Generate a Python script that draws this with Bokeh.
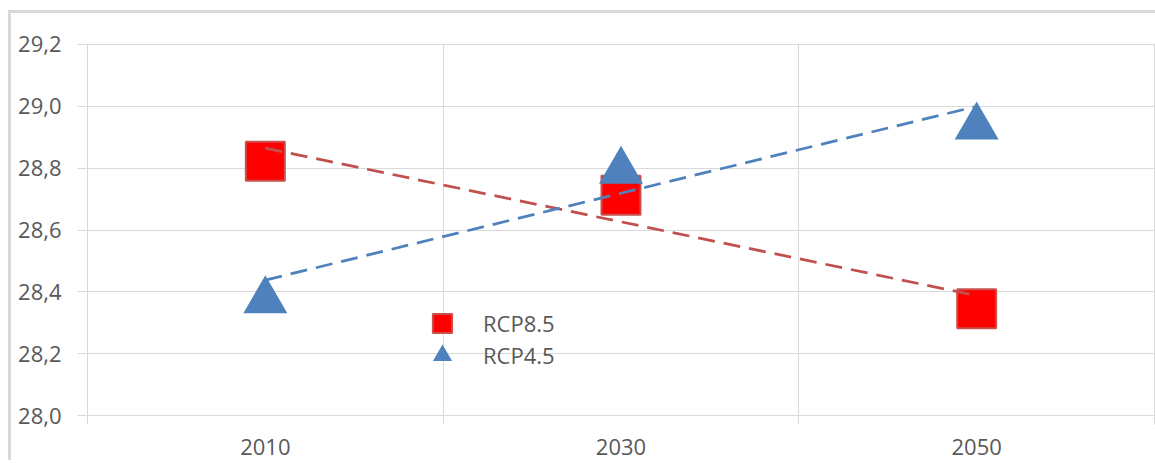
import numpy as np
from bokeh.plotting import figure
from bokeh.models import (FixedTicker, CustomJSTickFormatter, Legend, LegendItem,
                          Range1d, ColumnDataSource)
from bokeh.transform import dodge
from bokeh.embed import file_html
from bokeh.resources import INLINE

# ---- data ----
years = ["2010", "2030", "2050"]
rcp85 = [28.822, 28.712, 28.345]
rcp45 = [28.392, 28.811, 28.954]
y_ticks = [28.0, 28.2, 28.4, 28.6, 28.8, 29.0, 29.2]

FONT = "Open Sans"
TXT = "#595959"
GRID = "#d9d9d9"
RED_LINE = "#c0504d"
BLUE = "#4f81bd"
FS = "22px"

xpos = [i + 0.5 for i in range(len(years))]
bounds = [float(i) for i in range(len(years) + 1)]

p = figure(frame_width=1069, frame_height=373,
           x_range=Range1d(-0.0028, len(years) + 0.0028),
           y_range=Range1d(y_ticks[0] - 0.0032, y_ticks[-1] + 0.0032),
           output_backend="svg", toolbar_location=None,
           min_border_left=75, min_border_right=0, min_border_top=30, min_border_bottom=44)
p.styles = {"border-left": "3px solid #d9d9d9", "border-top": "3px solid #d9d9d9",
            "margin-top": "10px", "margin-left": "8px"}
p.outline_line_color = None

# x axis: labels at centres, grid/ticks at category boundaries
p.xaxis.ticker = FixedTicker(ticks=xpos, minor_ticks=bounds)
p.xaxis.major_label_overrides = {x: y for x, y in zip(xpos, years)}
p.xaxis.axis_line_color = None
p.xaxis.major_tick_line_color = None
p.xaxis.major_tick_out = 0
p.xaxis.major_tick_in = 0
p.xaxis.minor_tick_line_color = GRID
p.xaxis.minor_tick_out = 8
p.xaxis.minor_tick_in = 0
p.xaxis.minor_tick_line_width = 1
p.xaxis.major_label_standoff = 14
p.xgrid.ticker = FixedTicker(ticks=bounds)
p.xgrid.grid_line_color = GRID

# y axis
p.yaxis.ticker = FixedTicker(ticks=y_ticks)
p.yaxis.formatter = CustomJSTickFormatter(code="return tick.toFixed(1).replace('.', ',');")
p.yaxis.axis_line_color = None
p.yaxis.major_tick_line_color = GRID
p.yaxis.major_tick_out = 9
p.yaxis.major_tick_in = 0
p.yaxis.minor_tick_line_color = None
p.yaxis.major_label_standoff = 16
p.ygrid.grid_line_color = GRID

for ax in (p.xaxis[0], p.yaxis[0]):
    ax.major_label_text_font = FONT
    ax.major_label_text_font_size = FS
    ax.major_label_text_color = TXT

src85 = ColumnDataSource(dict(x=xpos, y=rcp85))
src45 = ColumnDataSource(dict(x=xpos, y=rcp45))

sq = p.scatter("x", "y", source=src85, marker="square", size=39,
               fill_color="#ff0000", line_color="#c8504d", line_width=2)
tri = p.scatter("x", dodge("y", -0.0205, range=p.y_range), source=src45,
                marker="triangle", size=44, fill_color=BLUE, line_color=None)

# linear trend lines from the data
for vals, col in ((rcp85, RED_LINE), (rcp45, BLUE)):
    k, b = np.polyfit(xpos, vals, 1)
    xs = [xpos[0], xpos[-1]]
    p.line(xs, [k * x + b for x in xs], line_color=col, line_width=2.75,
           line_dash="17 9")

for rend, label, loc in ((sq, "RCP8.5", (332, 69)), (tri, "RCP4.5", (332, 37))):
    leg = Legend(items=[LegendItem(label=label, renderers=[rend])], location=loc,
                 glyph_width=48, glyph_height=48, label_standoff=17,
                 padding=0, margin=0, spacing=0, border_line_color=None,
                 background_fill_alpha=0, label_text_font=FONT,
                 label_text_font_size=FS, label_text_color=TXT)
    p.add_layout(leg, "center")

open("out.html", "w").write(file_html(p, INLINE))
